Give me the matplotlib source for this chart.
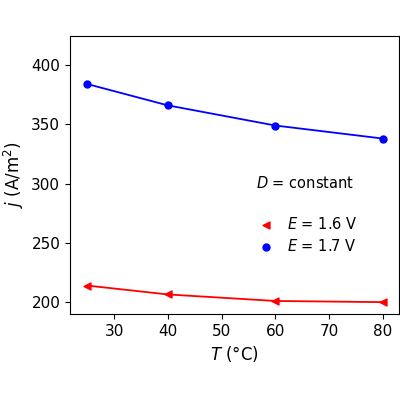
import matplotlib.pyplot as plt

temps = [25, 40, 60, 80]
j_16 = [214, 206.5, 201, 200]
j_17 = [384, 366, 349, 338]

fig = plt.figure(figsize=(4, 4), dpi=100)
ax = fig.add_axes([0.175, 0.215, 0.822, 0.695])

ax.plot(temps, j_16, color="red", lw=1.3)
ax.plot(temps, j_17, color="blue", lw=1.3)
ax.scatter(temps, j_16, color="red", marker="<", s=25, zorder=3, label="$E$ = 1.6 V")
ax.scatter(temps, j_17, color="blue", marker="o", s=25, zorder=3, label="$E$ = 1.7 V")

ax.set_xlim(21.8, 83)
ax.set_ylim(190, 424.5)
ax.set_xticks([30, 40, 50, 60, 70, 80])
ax.set_yticks([200, 250, 300, 350, 400])
ax.tick_params(labelsize=11)
ax.set_xlabel("$T$ (°C)", fontsize=12)
ax.set_ylabel("$j$ (A/m$^2$)", fontsize=12)

leg = ax.legend(title="$D$ = constant", frameon=False, fontsize=10.5,
                title_fontsize=10.5, loc="upper left",
                bbox_to_anchor=(0.535, 0.52), handletextpad=0.4,
                labelspacing=0.4, borderaxespad=0)
leg._legend_box.sep = 18

fig.savefig("out.png", dpi=100)
